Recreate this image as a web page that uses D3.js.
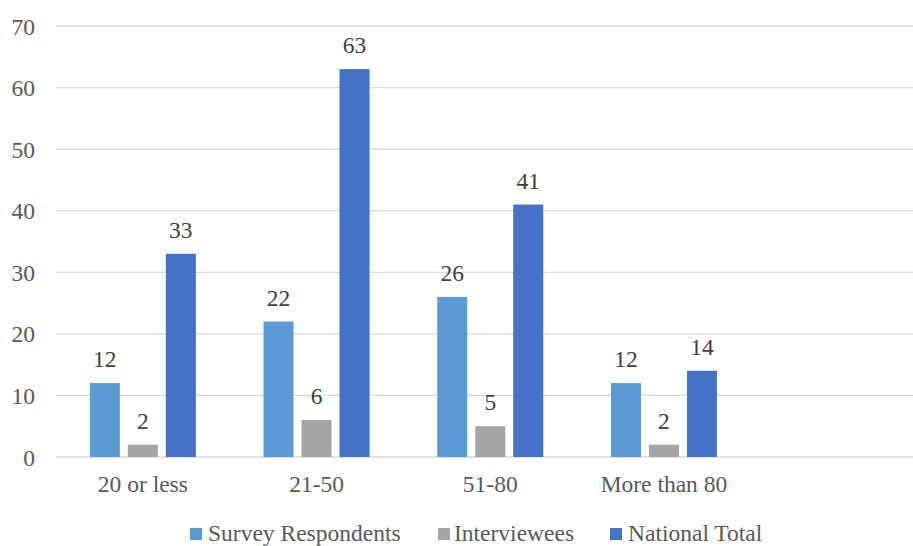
<!DOCTYPE html>
<html><head><meta charset="utf-8">
<script src="https://cdn.jsdelivr.net/npm/d3@7"></script>
<style>body{margin:0;background:#fff}svg{display:block}</style>
</head><body>
<svg id="c" width="913" height="546"></svg>
<script>
const categories = ["20 or less", "21-50", "51-80", "More than 80"];
const seriesNames = ["Survey Respondents", "Interviewees", "National Total"];
const surveyRespondents = [12, 22, 26, 12];
const interviewees = [2, 6, 5, 2];
const nationalTotal = [33, 63, 41, 14];
const yTicks = [0, 10, 20, 30, 40, 50, 60, 70];
const colors = ["#5B9BD5", "#A5A5A5", "#4472C4"];

(function(){
const values = [surveyRespondents, interviewees, nationalTotal];
const svg = d3.select("#c");
const pLeft = 56, pRight = 913, pTop = 26, pBottom = 457;
const step = 173.7;
const FONT = "'Liberation Serif', serif";
const FS = "23.5px";

const x0 = d3.scaleBand().domain(categories).range([pLeft, pLeft + step * categories.length]).padding(0);
const x1 = d3.scaleBand().domain(seriesNames).range([-53, 53]).paddingInner(0.21).paddingOuter(0);
const y = d3.scaleLinear().domain([0, 70]).range([pBottom, pTop]);

svg.append("g").selectAll("line").data(yTicks).join("line")
  .attr("x1", pLeft).attr("x2", pRight)
  .attr("y1", d => y(d)).attr("y2", d => y(d))
  .attr("stroke", "#D9D9D9").attr("stroke-width", 1.3);

const yAxis = d3.axisLeft(y).tickValues(yTicks).tickSize(0).tickPadding(0);
const gy = svg.append("g").attr("transform", `translate(35,0)`).call(yAxis);
gy.select(".domain").remove();
gy.selectAll("text").attr("fill", "#595959").style("font-family", FONT).style("font-size", FS).attr("dy", "0.34em");

const xAxis = d3.axisBottom(x0).tickSize(0).tickPadding(0);
const gx = svg.append("g").attr("transform", `translate(0,${pBottom})`).call(xAxis);
gx.select(".domain").remove();
gx.selectAll("text").attr("fill", "#595959").style("font-family", FONT).style("font-size", FS).attr("dy", 35);

const groups = svg.append("g").selectAll("g").data(categories).join("g")
  .attr("transform", d => `translate(${x0(d) + x0.bandwidth() / 2},0)`);
groups.each(function(cat, ci) {
  const g = d3.select(this);
  seriesNames.forEach((s, si) => {
    const v = values[si][ci];
    g.append("rect")
      .attr("x", x1(s)).attr("width", x1.bandwidth())
      .attr("y", y(v)).attr("height", y(0) - y(v))
      .attr("fill", colors[si]);
    g.append("text")
      .attr("x", x1(s) + x1.bandwidth() / 2).attr("y", y(v) - 16)
      .attr("text-anchor", "middle").attr("fill", "#404040")
      .style("font-family", FONT).style("font-size", FS).text(v);
  });
});

const leg = svg.append("g");
const items = [{x: 190, tx: 208}, {x: 438, tx: 454}, {x: 610, tx: 628}];
seriesNames.forEach((s, i) => {
  leg.append("rect").attr("x", items[i].x).attr("y", 528).attr("width", 12).attr("height", 12).attr("fill", colors[i]);
  leg.append("text").attr("x", items[i].tx).attr("y", 541).attr("fill", "#595959")
    .style("font-family", FONT).style("font-size", FS).text(s);
});
})();
</script>
</body></html>
